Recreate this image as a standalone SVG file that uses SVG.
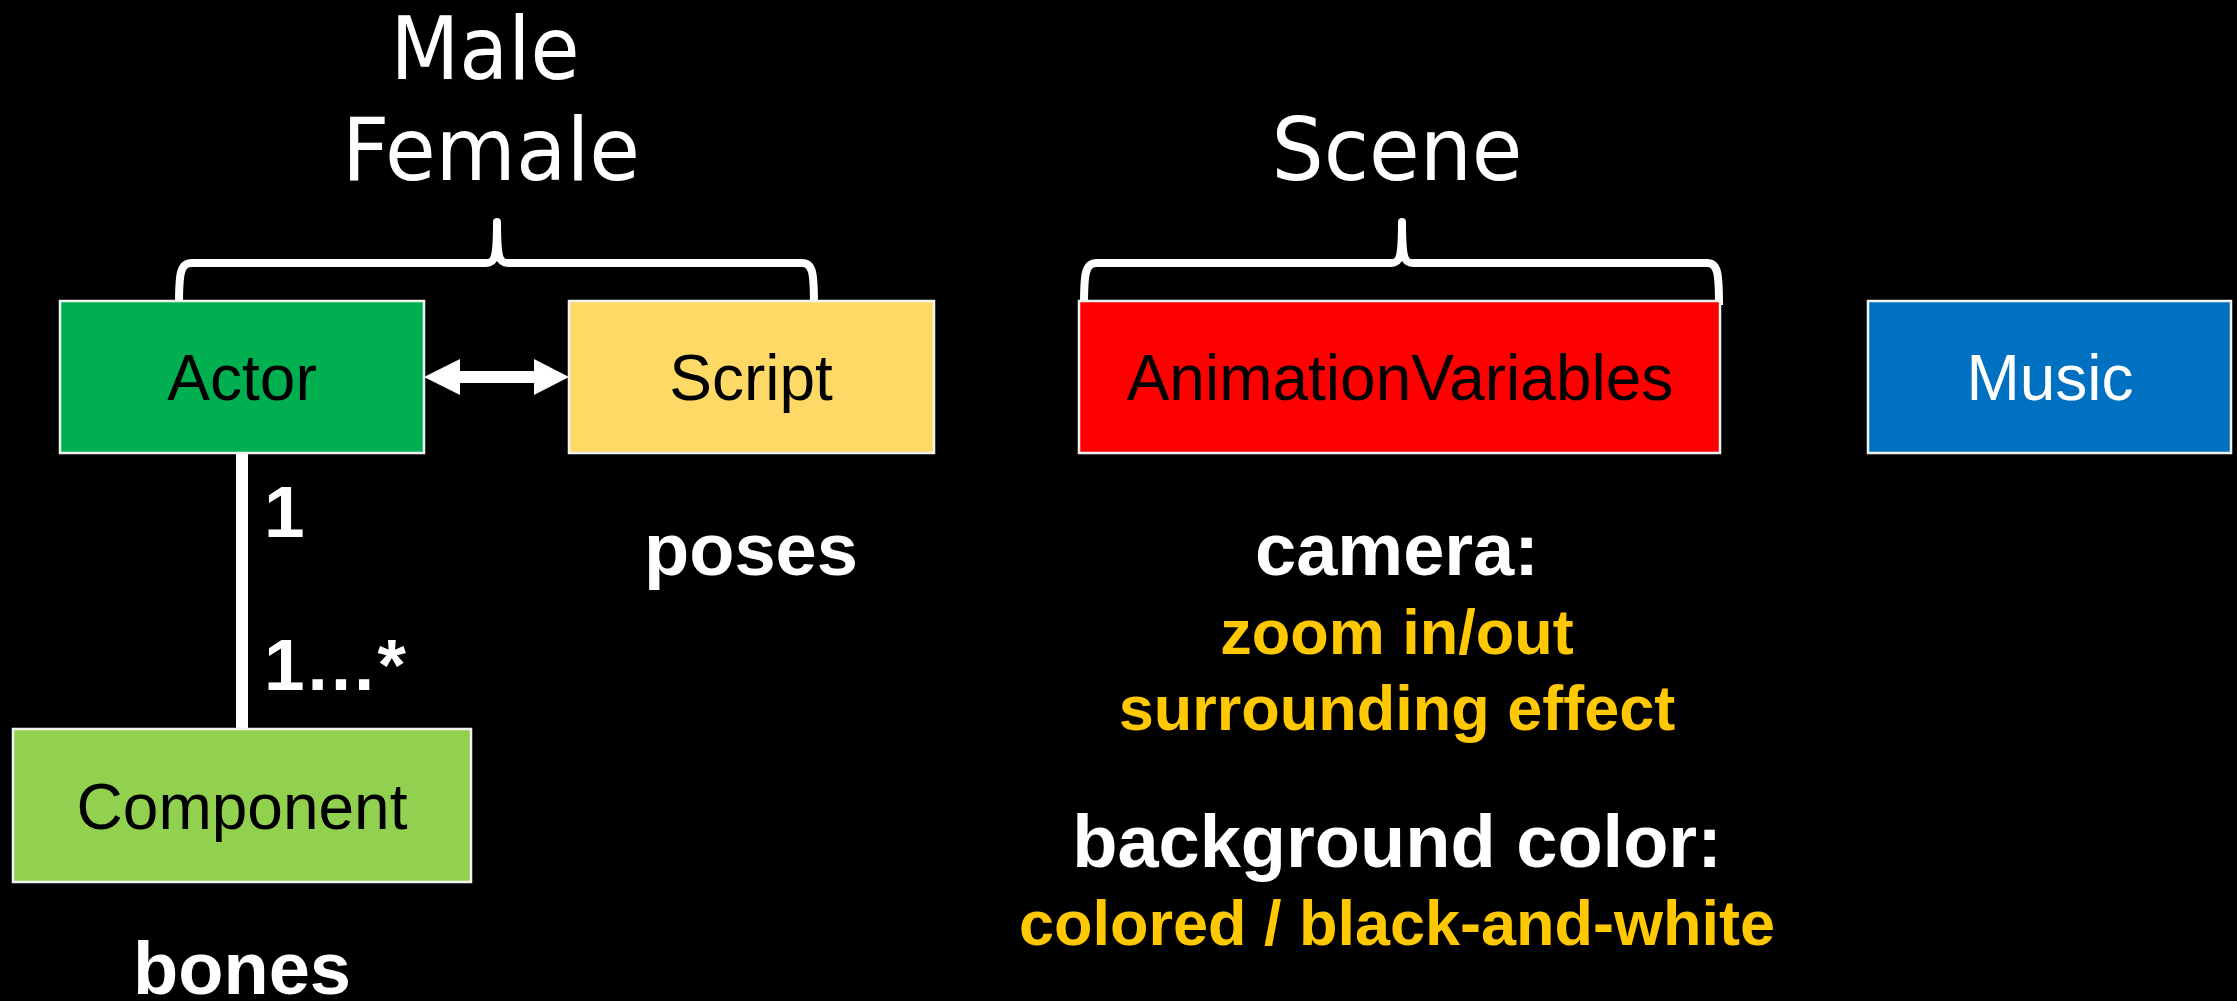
<svg xmlns="http://www.w3.org/2000/svg" width="2237" height="1001" viewBox="0 0 2237 1001">
  <style>
    .box { stroke: #F2F2F2; stroke-width: 2.5; }
    .boxlabel { font-family: "Liberation Sans", Arial, sans-serif; font-size: 64px; text-anchor: middle; }
    .title { font-family: "DejaVu Sans", Verdana, sans-serif; font-size: 88px; fill: #FFFFFF; text-anchor: middle; }
    .note { font-family: "Liberation Sans", Arial, sans-serif; font-weight: bold; font-size: 74px; fill: #FFFFFF; text-anchor: middle; }
    .sub { font-family: "Liberation Sans", Arial, sans-serif; font-weight: bold; font-size: 63px; fill: #FFC800; text-anchor: middle; }
    .mult { font-family: "Liberation Sans", Arial, sans-serif; font-weight: bold; font-size: 73px; fill: #FFFFFF; }
    .brace { fill: none; stroke: #FFFFFF; stroke-width: 8; stroke-linejoin: round; stroke-linecap: butt; }
  </style>

  <rect x="0" y="0" width="2237" height="1001" fill="#000000"/>

  <!-- group titles -->
  <text class="title" x="485" y="79" textLength="189" lengthAdjust="spacingAndGlyphs">Male</text>
  <text class="title" x="491" y="180" textLength="298" lengthAdjust="spacingAndGlyphs">Female</text>
  <text class="title" x="1397" y="180" textLength="251" lengthAdjust="spacingAndGlyphs">Scene</text>

  <!-- curly braces over the grouped classes -->
  <path class="brace" d="M179,305 C179,274 180,263 192,263 H486 C495,263 497,258 497,222 C497,258 499,263 508,263 H802 C813,263 814,274 814,305"/>
  <path class="brace" d="M1084,305 C1084,274 1085,263 1097,263 H1391 C1400,263 1402,258 1402,222 C1402,258 1404,263 1413,263 H1707 C1718,263 1719,274 1719,305"/>

  <!-- connectors -->
  <g id="connectors">
    <!-- Actor <-> Script -->
    <polygon id="actor-script" fill="#FFFFFF" points="424,377 460,359 460,371 534,371 534,359 569,377 534,395 534,383 460,383 460,395"/>
    <!-- Actor 1 ... 1..* Component -->
    <rect id="actor-component" x="236" y="454" width="12" height="276" fill="#FFFFFF"/>
    <text class="mult" x="264" y="537">1</text>
    <text class="mult" x="264" y="690">1…*</text>
  </g>

  <g id="actor">
    <rect class="box" x="60" y="301" width="364" height="152" fill="#00B050"/>
    <text class="boxlabel" x="242" y="400" fill="#000000">Actor</text>
  </g>

  <g id="script">
    <rect class="box" x="569" y="301" width="365" height="152" fill="#FFD966"/>
    <text class="boxlabel" x="751" y="400" fill="#000000">Script</text>
    <text class="note" x="751" y="575">poses</text>
  </g>

  <g id="component">
    <rect class="box" x="13" y="729" width="458" height="153" fill="#92D050"/>
    <text class="boxlabel" x="242" y="829" fill="#000000">Component</text>
    <text class="note" x="242" y="994">bones</text>
  </g>

  <g id="animation-variables">
    <rect class="box" x="1079" y="301" width="641" height="152" fill="#FF0000"/>
    <text class="boxlabel" x="1400" y="400" fill="#000000">AnimationVariables</text>
    <text class="note" x="1397" y="575">camera:</text>
    <text class="sub" x="1397" y="654">zoom in/out</text>
    <text class="sub" x="1397" y="730">surrounding effect</text>
    <text class="note" x="1397" y="867">background color:</text>
    <text class="sub" x="1397" y="945">colored / black-and-white</text>
  </g>

  <g id="music">
    <rect class="box" x="1868" y="301" width="363" height="152" fill="#0070C0"/>
    <text class="boxlabel" x="2050" y="400" fill="#FFFFFF">Music</text>
  </g>
</svg>
